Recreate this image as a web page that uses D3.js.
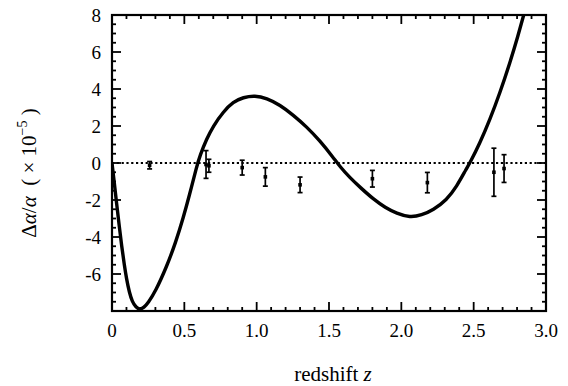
<!DOCTYPE html>
<html><head><meta charset="utf-8">
<script src="https://cdn.jsdelivr.net/npm/d3@7"></script>
<style>
html,body{margin:0;padding:0;background:#fff;}
svg{display:block;}
</style></head>
<body>
<svg id="c" width="568" height="386" font-family="'Liberation Serif', 'DejaVu Serif', serif"></svg>
<script>
// Data
const xTicks = [0, 0.5, 1.0, 1.5, 2.0, 2.5, 3.0];
const xTickLabels = ["0", "0.5", "1.0", "1.5", "2.0", "2.5", "3.0"];
const yTicks = [-6, -4, -2, 0, 2, 4, 6, 8];
const yTickLabels = ["-6", "-4", "-2", "0", "2", "4", "6", "8"];

// model curve (redshift, Δα/α ×1e-5)
const curveZ = [0, 0.015, 0.032, 0.05, 0.067, 0.085, 0.10, 0.12, 0.14, 0.165, 0.194, 0.22, 0.25, 0.30, 0.378, 0.44, 0.493, 0.535, 0.585, 0.608, 0.654, 0.70, 0.769, 0.838, 0.907, 0.988, 1.069, 1.161, 1.253, 1.345, 1.437, 1.529, 1.576, 1.645, 1.72, 1.806, 1.89, 1.967, 2.06, 2.14, 2.22, 2.313, 2.382, 2.451, 2.474, 2.543, 2.612, 2.681, 2.75, 2.808, 2.845, 2.87];
const curveV = [0, -1.0, -2.2, -3.4, -4.5, -5.5, -6.25, -7.0, -7.5, -7.8, -7.92, -7.82, -7.55, -6.95, -5.6, -4.3, -2.95, -1.75, -0.2, 0.4, 1.3, 2.0, 2.77, 3.31, 3.55, 3.65, 3.5, 3.14, 2.59, 1.96, 1.2, 0.3, -0.2, -0.8, -1.35, -1.95, -2.42, -2.72, -2.95, -2.82, -2.54, -2.0, -1.28, -0.29, 0, 1.08, 2.34, 3.78, 5.4, 6.9, 8.0, 8.6];

// measurements with error bars
const ptZ   = [0.26, 0.65, 0.67, 0.90, 1.06, 1.30, 1.80, 2.18, 2.64, 2.71];
const ptV   = [-0.12, -0.08, -0.15, -0.25, -0.75, -1.18, -0.85, -1.06, -0.50, -0.30];
const ptErr = [0.2, 0.75, 0.35, 0.4, 0.5, 0.42, 0.45, 0.55, 1.3, 0.75];

const svg = d3.select("#c");
const L = 112, R = 546, T = 15, B = 311;
const x = d3.scaleLinear().domain([0, 3]).range([L, R]);
const y = d3.scaleLinear().domain([-8, 8]).range([B, T]);

svg.append("clipPath").attr("id","clip").append("rect")
  .attr("x", L).attr("y", T).attr("width", R-L).attr("height", B-T);

// ticks (inside, all four sides)
const xMinor = d3.range(0, 3.0001, 0.1);
const yMinor = d3.range(-8, 8.0001, 0.5);
function isMajorX(v){ return Math.abs(v*2 - Math.round(v*2)) < 1e-6; }
function isMajorY(v){ return Math.abs(v/2 - Math.round(v/2)) < 1e-6; }

const tk = svg.append("g").attr("stroke", "#000").attr("stroke-width", 1.8);
xMinor.forEach(v => {
  const len = isMajorX(v) ? 9 : 4;
  tk.append("line").attr("x1", x(v)).attr("x2", x(v)).attr("y1", B).attr("y2", B-len);
  tk.append("line").attr("x1", x(v)).attr("x2", x(v)).attr("y1", T).attr("y2", T+len);
});
yMinor.forEach(v => {
  const len = isMajorY(v) ? 9 : 4;
  tk.append("line").attr("y1", y(v)).attr("y2", y(v)).attr("x1", L).attr("x2", L+len);
  tk.append("line").attr("y1", y(v)).attr("y2", y(v)).attr("x1", R).attr("x2", R-len);
});

// zero dotted line
svg.append("line")
  .attr("x1", x(0)).attr("x2", x(3)).attr("y1", y(0)).attr("y2", y(0))
  .attr("stroke", "#000").attr("stroke-width", 2.2).attr("stroke-dasharray", "2.2,2.6");

// model curve
const line = d3.line().x((d,i)=>x(curveZ[i])).y((d,i)=>y(curveV[i])).curve(d3.curveBasis);
svg.append("path").datum(curveZ).attr("d", line).attr("fill","none")
  .attr("stroke","#000").attr("stroke-width",3.4).attr("stroke-linejoin","round").attr("clip-path","url(#clip)");

// error bars
const eb = svg.append("g").attr("stroke","#000").attr("stroke-width",1.7);
ptZ.forEach((z,i) => {
  const cx = x(z), y0 = y(ptV[i]-ptErr[i]), y1 = y(ptV[i]+ptErr[i]);
  eb.append("line").attr("x1",cx).attr("x2",cx).attr("y1",y0).attr("y2",y1);
  eb.append("line").attr("x1",cx-2.5).attr("x2",cx+2.5).attr("y1",y0).attr("y2",y0);
  eb.append("line").attr("x1",cx-2.5).attr("x2",cx+2.5).attr("y1",y1).attr("y2",y1);
  svg.append("rect").attr("x",cx-1.8).attr("y",y(ptV[i])-1.8).attr("width",3.6).attr("height",3.6).attr("fill","#000");
});

// frame
svg.append("rect").attr("x",L).attr("y",T).attr("width",R-L).attr("height",B-T)
  .attr("fill","none").attr("stroke","#000").attr("stroke-width",2.2);

// tick labels
svg.append("g").selectAll("text").data(xTicks).join("text")
  .attr("x", d=>x(d)).attr("y", 337).attr("text-anchor","middle")
  .attr("font-size", 19).text((d,i)=>xTickLabels[i]);
svg.append("g").selectAll("text").data(yTicks).join("text")
  .attr("x", 101).attr("y", d=>y(d)).attr("dy","0.35em").attr("text-anchor","end")
  .attr("font-size", 19).text((d,i)=>yTickLabels[i]);

// axis titles
const xt = svg.append("text").attr("x", 333).attr("y", 381).attr("text-anchor","middle").attr("font-size", 21);
xt.append("tspan").text("redshift ");
xt.append("tspan").attr("font-style","italic").text("z");

const yt = svg.append("text").attr("transform","translate(36,173) rotate(-90)")
  .attr("text-anchor","middle").attr("font-size", 21);
yt.append("tspan").text("Δ");
yt.append("tspan").attr("font-style","italic").text("α");
yt.append("tspan").text("/");
yt.append("tspan").attr("font-style","italic").text("α");
yt.append("tspan").text("\u00a0\u00a0( × 10");
yt.append("tspan").attr("font-size", 14).attr("dy", -9).text("−5");
yt.append("tspan").attr("dy", 9).text("\u00a0)");
</script>
</body></html>
